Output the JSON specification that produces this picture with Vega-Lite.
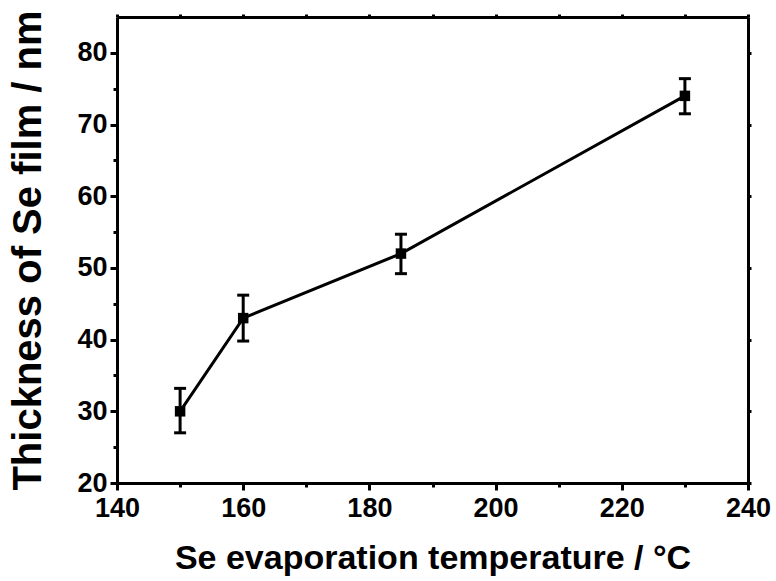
{
  "$schema": "https://vega.github.io/schema/vega-lite/v6.json",
  "autosize": {"type": "none"},
  "width": 631,
  "height": 466,
  "padding": {"left": 117, "top": 17, "right": 28, "bottom": 98},
  "background": "white",
  "config": {
    "view": {"stroke": null},
    "axis": {
      "grid": false,
      "domainColor": "black",
      "domainWidth": 3,
      "tickColor": "black",
      "tickWidth": 3,
      "tickSize": 7,
      "labelFont": "Liberation Sans",
      "labelFontWeight": "bold",
      "labelFontSize": 27,
      "labelColor": "black",
      "titleFont": "Liberation Sans",
      "titleFontWeight": "bold",
      "titleColor": "black"
    }
  },
  "data": {
    "values": [
      {"temp": 150, "thickness": 30, "lo": 27.0, "hi": 33.2},
      {"temp": 160, "thickness": 43, "lo": 39.8, "hi": 46.2},
      {"temp": 185, "thickness": 52, "lo": 49.2, "hi": 54.7},
      {"temp": 230, "thickness": 74, "lo": 71.5, "hi": 76.4}
    ]
  },
  "resolve": {"axis": {"x": "independent", "y": "independent"}},
  "layer": [
    {
      "mark": {"type": "line", "color": "black", "strokeWidth": 3},
      "encoding": {
        "x": {
          "field": "temp", "type": "quantitative",
          "scale": {"domain": [140, 240], "nice": false, "zero": false},
          "axis": {"orient": "bottom", "values": [140, 160, 180, 200, 220, 240], "title": "Se evaporation temperature / °C", "titleFontSize": 34, "labelFontSize": 27, "labelPadding": 5, "titlePadding": 20, "labelFlush": false}
        },
        "y": {
          "field": "thickness", "type": "quantitative",
          "scale": {"domain": [20, 85], "nice": false, "zero": false},
          "axis": {"orient": "left", "values": [20, 30, 40, 50, 60, 70, 80], "title": "Thickness of Se film / nm", "titleFontSize": 40, "labelFontSize": 27, "labelPadding": 3, "titlePadding": 28, "labelFlush": false}
        }
      }
    },
    {
      "mark": {"type": "point", "shape": "square", "filled": true, "color": "black", "size": 110, "opacity": 1},
      "encoding": {
        "x": {"field": "temp", "type": "quantitative", "axis": {"orient": "bottom", "values": [150, 170, 190, 210, 230], "labels": false, "domain": false, "tickSize": 4, "title": null}},
        "y": {"field": "thickness", "type": "quantitative", "axis": {"orient": "left", "values": [25, 35, 45, 55, 65, 75], "labels": false, "domain": false, "tickSize": 4, "title": null}}
      }
    },
    {
      "mark": {"type": "rule", "color": "black", "strokeWidth": 3},
      "encoding": {
        "x": {"field": "temp", "type": "quantitative", "axis": {"orient": "top", "values": [140, 150, 160, 170, 180, 190, 200, 210, 220, 230, 240], "labels": false, "tickSize": 3, "title": null}},
        "y": {"field": "lo", "type": "quantitative", "axis": {"orient": "right", "values": [20, 30, 40, 50, 60, 70, 80], "labels": false, "tickSize": 3, "title": null}},
        "y2": {"field": "hi"}
      }
    },
    {
      "mark": {"type": "tick", "orient": "horizontal", "color": "black", "thickness": 3, "size": 12, "opacity": 1},
      "encoding": {
        "x": {"field": "temp", "type": "quantitative", "axis": null},
        "y": {"field": "lo", "type": "quantitative", "axis": null}
      }
    },
    {
      "mark": {"type": "tick", "orient": "horizontal", "color": "black", "thickness": 3, "size": 12, "opacity": 1},
      "encoding": {
        "x": {"field": "temp", "type": "quantitative", "axis": null},
        "y": {"field": "hi", "type": "quantitative", "axis": null}
      }
    }
  ]
}
